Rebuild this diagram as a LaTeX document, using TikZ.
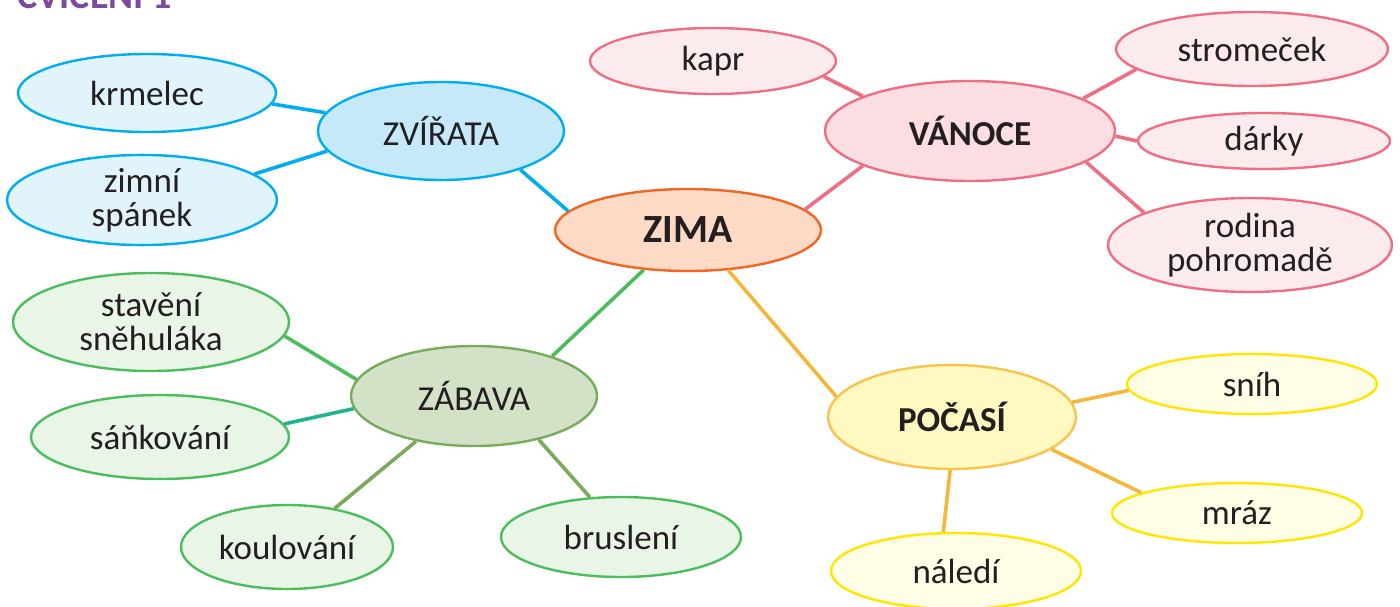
\documentclass[tikz,border=0pt]{standalone}
\usepackage{fontspec}
\setmainfont{Carlito}
\usetikzlibrary{shapes.geometric}

\definecolor{ink}{HTML}{231F20}
\definecolor{titlepurple}{HTML}{7B4A9E}
% centre
\definecolor{zimafill}{HTML}{FDDAC5}
\definecolor{zimaline}{HTML}{F26522}
% animals
\definecolor{bluefill}{HTML}{C6E9F9}
\definecolor{bluelight}{HTML}{E1F4FC}
\definecolor{blueline}{HTML}{00AEEF}
% christmas
\definecolor{pinkfill}{HTML}{FBDDE2}
\definecolor{pinklight}{HTML}{FCEBEC}
\definecolor{pinkline}{HTML}{EE6E84}
% weather
\definecolor{yellowfill}{HTML}{FFF8C0}
\definecolor{yellowlight}{HTML}{FFFDE6}
\definecolor{yellowline}{HTML}{F9C34D}
\definecolor{yellowedge}{HTML}{FFE500}
\definecolor{orangeline}{HTML}{F4B73A}
% fun
\definecolor{greenfill}{HTML}{D3E1C7}
\definecolor{greenlight}{HTML}{E8F5E7}
\definecolor{greenedge}{HTML}{76AC5A}
\definecolor{greenline}{HTML}{4CBD5C}
\definecolor{tealline}{HTML}{1DB58C}
\definecolor{oliveline}{HTML}{7BAA5E}

\tikzset{
  bubble/.style={ellipse, inner sep=0pt, line width=2.4pt, text=ink,
    align=center, font=\fontsize{35}{34}\selectfont},
  bold bubble/.style={bubble, font=\fontsize{35}{34}\selectfont\bfseries},
  rx/.style={minimum width=#1*2pt},
  ry/.style={minimum height=#1*2pt},
  bluebig/.style={bubble, fill=bluefill, draw=blueline},
  bluesmall/.style={bubble, fill=bluelight, draw=blueline},
  pinkbig/.style={bold bubble, fill=pinkfill, draw=pinkline},
  pinksmall/.style={bubble, fill=pinklight, draw=pinkline},
  yellowbig/.style={bold bubble, fill=yellowfill, draw=yellowline},
  yellowsmall/.style={bubble, fill=yellowlight, draw=yellowedge},
  greenbig/.style={bubble, fill=greenfill, draw=greenedge},
  greensmall/.style={bubble, fill=greenlight, draw=greenline},
  link/.style={line width=3.6pt},
}

\begin{document}
\begin{tikzpicture}[x=1pt, y=-1pt]
\useasboundingbox (0,0) rectangle (1400,607);
\fill[white] (0,0) rectangle (1400,607);

% heading, partly above the page edge
\begin{scope}
\clip (0,0) rectangle (1400,607);
\node[anchor=base west, inner sep=0pt, text=titlepurple,
      font=\fontsize{38}{38}\selectfont\bfseries] (title) at (17,9) {CVIČENÍ 1};
\end{scope}

% central topic
\node[bubble, fill=zimafill, draw=zimaline, rx=133, ry=41,
      font=\fontsize{40}{40}\selectfont\bfseries] (zima) at (688,230) {ZIMA};

% branch: animals
\node[bluebig, rx=123, ry=49] (zvirata) at (441,131) {ZVÍŘATA};
\node[bluesmall, rx=129, ry=39] (krmelec) at (147,93) {krmelec};
\node[bluesmall, rx=135, ry=45] (spanek) at (142,200) {zimní\\spánek};

% branch: Christmas
\node[pinkbig, rx=145, ry=50] (vanoce) at (970,131) {VÁNOCE};
\node[pinksmall, rx=123, ry=33] (kapr) at (713,61) {kapr};
\node[pinksmall, rx=136, ry=37] (stromecek) at (1252,49) {stromeček};
\node[pinksmall, rx=126, ry=28] (darky) at (1264,141) {dárky};
\node[pinksmall, rx=142, ry=47] (rodina) at (1250,245) {rodina\\pohromadě};

% branch: weather
\node[yellowbig, rx=124, ry=52] (pocasi) at (952,417) {POČASÍ};
\node[yellowsmall, rx=125, ry=30] (snih) at (1252,384) {sníh};
\node[yellowsmall, rx=125, ry=30] (mraz) at (1237,513) {mráz};
\node[yellowsmall, rx=125, ry=38] (naledi) at (956,571) {náledí};

% branch: fun
\node[greenbig, rx=123, ry=50] (zabava) at (474,396) {ZÁBAVA};
\node[greensmall, rx=138, ry=49] (snehulak) at (151,322) {stavění\\sněhuláka};
\node[greensmall, rx=129, ry=42] (sankovani) at (160,437) {sáňkování};
\node[greensmall, rx=106, ry=42] (koulovani) at (287,547) {koulování};
\node[greensmall, rx=120, ry=40] (brusleni) at (621,537) {bruslení};

% connectors
\draw[link, blueline] (zima.171) -- (zvirata.-26);
\draw[link, blueline] (zvirata.171) -- (krmelec.-5);
\draw[link, blueline] (zvirata.190) -- (spanek.13);

\draw[link, pinkline] (zima.10) -- (vanoce.198);
\draw[link, pinkline] (vanoce.162) -- (kapr.-8);
\draw[link, pinkline] (vanoce.16) -- (stromecek.190);
\draw[link, pinkline] (vanoce.-2) -- (darky.180);
\draw[link, pinkline] (vanoce.-15) -- (rodina.163);

\draw[link, orangeline] (zima.-45) -- (pocasi.170);
\draw[link, orangeline] (pocasi.7) -- (snih.183);
\draw[link, orangeline] (pocasi.-18) -- (mraz.168);
\draw[link, orangeline] (pocasi.-92) -- (naledi.108);

\draw[link, greenline] (zima.222) -- (zabava.27);
\draw[link, greenline] (zabava.172) -- (snehulak.-6);
\draw[link, tealline] (zabava.186) -- (sankovani.6);
\draw[link, oliveline] (zabava.218) -- (koulovani.39);
\draw[link, oliveline] (zabava.-34) -- (brusleni.128);
\end{tikzpicture}
\end{document}
